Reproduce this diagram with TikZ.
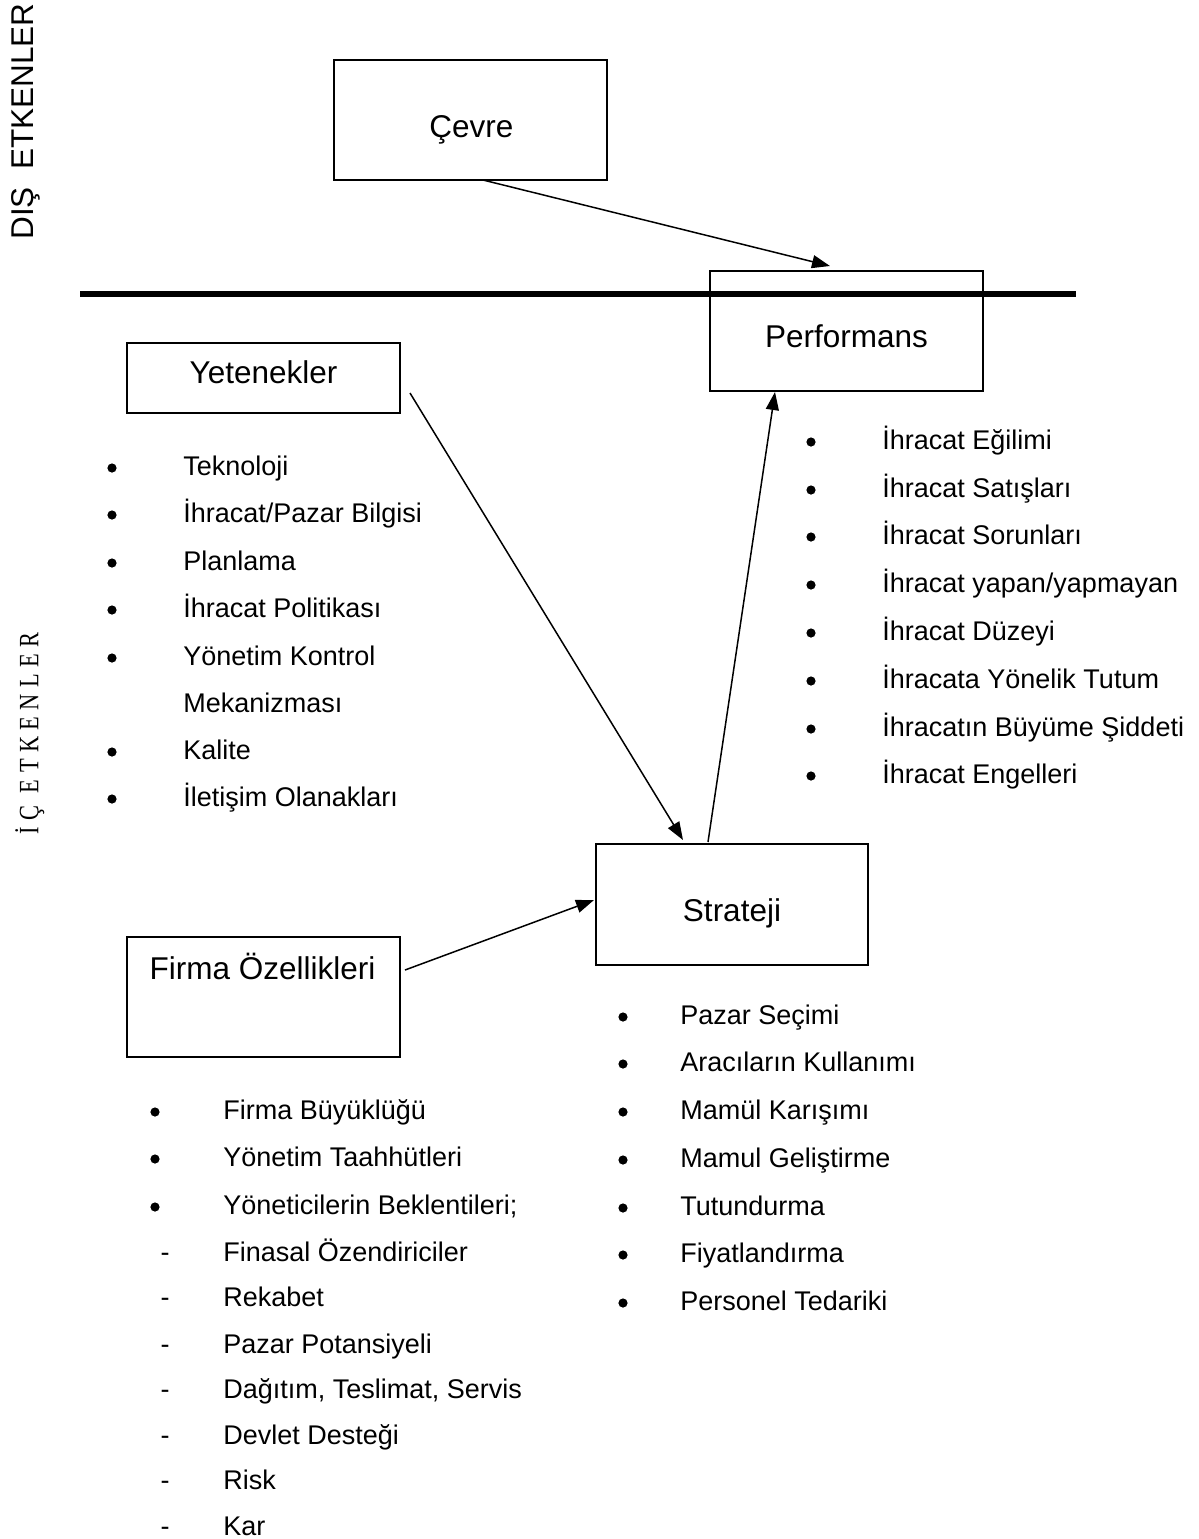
\documentclass[tikz,border=0pt]{standalone}
\usepackage{graphicx}
\usepackage{fontspec}
\setmainfont{Liberation Sans}
\newfontfamily\timesfont{Liberation Serif}
\usetikzlibrary{arrows.meta,calc}
\newcommand\lgap{\hspace{4pt}}
\begin{document}
\begin{tikzpicture}[x=0.5pt,y=-0.5pt,
  box/.style={draw,line width=1pt,inner sep=0pt,outer sep=0pt},
  boxlabel/.style={inner sep=0pt,anchor=base,font=\fontsize{15.75}{18}\selectfont},
  item/.style={inner sep=0pt,anchor=base west,font=\fontsize{13.5}{16}\selectfont},
  dashmark/.style={inner sep=0pt,anchor=base,font=\fontsize{13.5}{16}\selectfont},
  arr/.style={line width=0.75pt,-{Triangle[length=9pt,width=6.5pt]}},
  ]
\useasboundingbox (0,0) rectangle (1199,1539);

% side captions
\node[rotate=90,anchor=base west,inner sep=0pt,font=\fontsize{15.75}{18}\selectfont] (dis) at (33.5,240) {DIŞ\ \ ETKENLER};
\node[rotate=90,anchor=base west,inner sep=0pt,font=\timesfont\fontsize{14}{16}\selectfont] (ic) at (38.5,835)
  {\scalebox{0.8}[1]{İ\lgap Ç\lgap\lgap E\lgap T\lgap K\lgap E\lgap N\lgap L\lgap E\lgap R}};

% boundary between external and internal factors
\draw[line width=3pt] (80,294) -- (1076,294);

% boxes
\node[box,minimum width=136.5pt,minimum height=60pt] (cevre) at (470.5,120) {};
\node[box,minimum width=136.5pt,minimum height=60pt] (perf) at (846.5,331) {};
\node[box,minimum width=136.5pt,minimum height=35pt] (yet) at (263.5,378) {};
\node[box,minimum width=136pt,minimum height=60.5pt] (strat) at (732,904.5) {};
\node[box,minimum width=136.5pt,minimum height=60pt] (firma) at (263.5,997) {};

\node[boxlabel] (cevrelbl) at (471.5,137) {Çevre};
\node[boxlabel] (perflbl) at (846.5,347) {Performans};
\node[boxlabel] (yetlbl) at (263.5,383) {Yetenekler};
\node[boxlabel] (stratlbl) at (732,921) {Strateji};
\node[boxlabel] (firmalbl) at (262.5,979) {Firma Özellikleri};

% connectors
\draw[arr] ([xshift=6.25pt]cevre.south) -- ([xshift=-8.25pt,yshift=2.5pt]perf.north);
\draw[arr] ([xshift=5pt,yshift=-7.5pt]yet.east) -- ([xshift=-24.5pt,yshift=2pt]strat.north);
\draw[arr] ([xshift=-12pt,yshift=1pt]strat.north) -- ([xshift=-35.75pt,yshift=-0.5pt]perf.south);
\draw[arr] ([xshift=2.5pt,yshift=13.5pt]firma.east) -- ([xshift=-1pt,yshift=2.25pt]strat.west);

% capabilities
\foreach \b in {475,522,570,617,665,759,806} \fill (112,\b-7) circle[radius=2.3pt];
\node[item] (y1) at (183,475) {Teknoloji};
\node[item] (y2) at (183,522) {İhracat/Pazar Bilgisi};
\node[item] (y3) at (183,570) {Planlama};
\node[item] (y4) at (183,617) {İhracat Politikası};
\node[item] (y5) at (183,665) {Yönetim Kontrol};
\node[item] (y6) at (183,712) {Mekanizması};
\node[item] (y7) at (183,759) {Kalite};
\node[item] (y8) at (183,806) {İletişim Olanakları};

% performance measures
\foreach \b in {449,497,544,592,640,688,736,783} \fill (811,\b-7) circle[radius=2.3pt];
\node[item] (p1) at (882,449) {İhracat Eğilimi};
\node[item] (p2) at (882,497) {İhracat Satışları};
\node[item] (p3) at (882,544) {İhracat Sorunları};
\node[item] (p4) at (882,592) {İhracat yapan/yapmayan};
\node[item] (p5) at (882,640) {İhracat Düzeyi};
\node[item] (p6) at (882,688) {İhracata Yönelik Tutum};
\node[item] (p7) at (882,736) {İhracatın Büyüme Şiddeti};
\node[item] (p8) at (882,783) {İhracat Engelleri};

% strategy elements
\foreach \b in {1024,1071,1119,1167,1215,1262,1310} \fill (623,\b-7) circle[radius=2.3pt];
\node[item] (s1) at (680,1024) {Pazar Seçimi};
\node[item] (s2) at (680,1071) {Aracıların Kullanımı};
\node[item] (s3) at (680,1119) {Mamül Karışımı};
\node[item] (s4) at (680,1167) {Mamul Geliştirme};
\node[item] (s5) at (680,1215) {Tutundurma};
\node[item] (s6) at (680,1262) {Fiyatlandırma};
\node[item] (s7) at (680,1310) {Personel Tedariki};

% firm characteristics
\foreach \b in {1119,1166,1214} \fill (155,\b-7) circle[radius=2.3pt];
\node[item] (f1) at (223,1119) {Firma Büyüklüğü};
\node[item] (f2) at (223,1166) {Yönetim Taahhütleri};
\node[item] (f3) at (223,1214) {Yöneticilerin Beklentileri;};
\foreach \b [count=\i] in {1261,1306,1353,1398,1444,1489,1535}
  \node[dashmark] (d\i) at (165,\b) {-};
\node[item] (f4) at (223,1261) {Finasal Özendiriciler};
\node[item] (f5) at (223,1306) {Rekabet};
\node[item] (f6) at (223,1353) {Pazar Potansiyeli};
\node[item] (f7) at (223,1398) {Dağıtım, Teslimat, Servis};
\node[item] (f8) at (223,1444) {Devlet Desteği};
\node[item] (f9) at (223,1489) {Risk};
\node[item] (f10) at (223,1535) {Kar};
\end{tikzpicture}
\end{document}
